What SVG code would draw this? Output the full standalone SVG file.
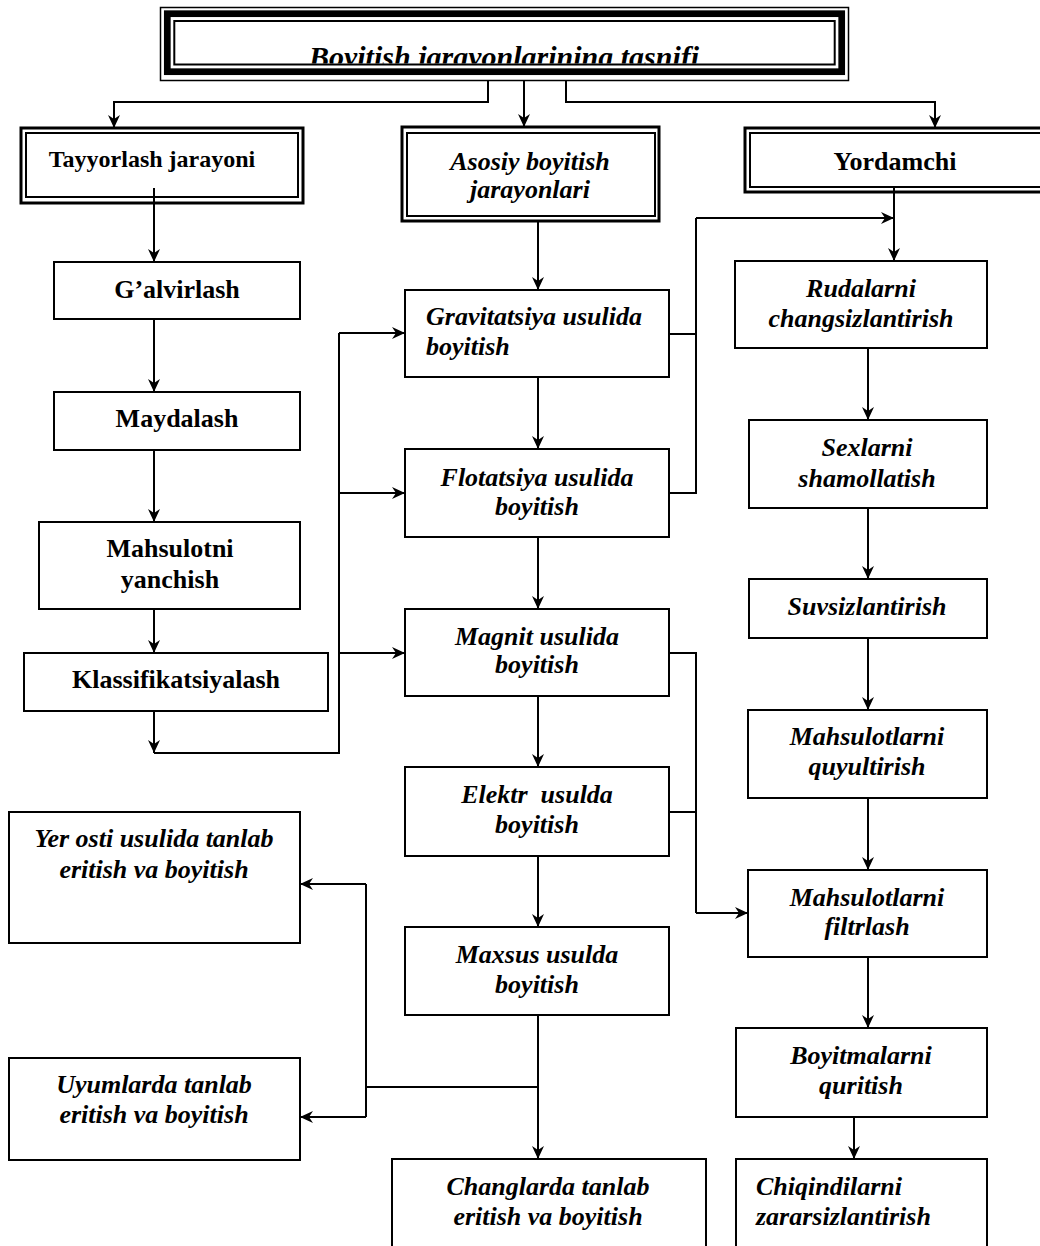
<svg xmlns="http://www.w3.org/2000/svg" width="1040" height="1246" viewBox="0 0 1040 1246">
<style>
.box{fill:#fff;stroke:#000;stroke-width:2}
.ob{fill:none;stroke:#000;stroke-width:3}
.ib{fill:none;stroke:#000;stroke-width:2}
.t{font-family:"Liberation Serif","Times New Roman",serif;font-size:26px;font-weight:bold;font-style:italic;fill:#000}
.n{font-style:normal}
.m{text-anchor:middle}
.conn{fill:none;stroke:#000;stroke-width:2}
</style>
<defs>
<marker id="ah" viewBox="0 0 13 12" refX="13" refY="6" markerWidth="13" markerHeight="12" markerUnits="userSpaceOnUse" orient="auto">
<path d="M0,0 L13,6 L0,12 L4,6 z" fill="#000"/>
</marker>
<clipPath id="titleClip"><rect x="176" y="22" width="658" height="41.5"/></clipPath>
</defs>
<rect width="1040" height="1246" fill="#fff"/>

<g id="connectors">
<path class="conn" d="M488,81 V102 H114 V128" marker-end="url(#ah)"/>
<path class="conn" d="M524,81 V127" marker-end="url(#ah)"/>
<path class="conn" d="M566,81 V102 H935 V128" marker-end="url(#ah)"/>
<path class="conn" d="M154,188 V262" marker-end="url(#ah)"/>
<path class="conn" d="M154,319 V392" marker-end="url(#ah)"/>
<path class="conn" d="M154,450 V522" marker-end="url(#ah)"/>
<path class="conn" d="M154,609 V653" marker-end="url(#ah)"/>
<path class="conn" d="M154,711 V753" marker-end="url(#ah)"/>
<path class="conn" d="M154,753 H339 V333"/>
<path class="conn" d="M339,333 H405" marker-end="url(#ah)"/>
<path class="conn" d="M339,493 H405" marker-end="url(#ah)"/>
<path class="conn" d="M339,653 H405" marker-end="url(#ah)"/>
<path class="conn" d="M538,221 V290" marker-end="url(#ah)"/>
<path class="conn" d="M538,377 V449" marker-end="url(#ah)"/>
<path class="conn" d="M538,537 V609" marker-end="url(#ah)"/>
<path class="conn" d="M538,696 V767" marker-end="url(#ah)"/>
<path class="conn" d="M538,856 V927" marker-end="url(#ah)"/>
<path class="conn" d="M538,1015 V1159" marker-end="url(#ah)"/>
<path class="conn" d="M538,1087 H366"/>
<path class="conn" d="M366,1117 V884"/>
<path class="conn" d="M366,884 H300" marker-end="url(#ah)"/>
<path class="conn" d="M366,1117 H300" marker-end="url(#ah)"/>
<path class="conn" d="M669,334 H696"/>
<path class="conn" d="M669,493 H696 V218"/>
<path class="conn" d="M696,218 H894" marker-end="url(#ah)"/>
<path class="conn" d="M894,188 V261" marker-end="url(#ah)"/>
<path class="conn" d="M669,653 H696 V913"/>
<path class="conn" d="M669,812 H696"/>
<path class="conn" d="M696,913 H748" marker-end="url(#ah)"/>
<path class="conn" d="M868,348 V420" marker-end="url(#ah)"/>
<path class="conn" d="M868,508 V579" marker-end="url(#ah)"/>
<path class="conn" d="M868,638 V710" marker-end="url(#ah)"/>
<path class="conn" d="M868,798 V870" marker-end="url(#ah)"/>
<path class="conn" d="M868,957 V1028" marker-end="url(#ah)"/>
<path class="conn" d="M854,1117 V1159" marker-end="url(#ah)"/>
</g>

<g id="title">
<rect x="160.5" y="7.5" width="688" height="73" fill="#fff" stroke="#000" stroke-width="1.5"/>
<rect x="167.3" y="13.7" width="674.4" height="58" fill="none" stroke="#000" stroke-width="6.7"/>
<rect x="174.3" y="21" width="660.4" height="43.5" fill="none" stroke="#000" stroke-width="2"/>
<text class="t m" x="504" y="67" font-size="30" style="font-size:30px" clip-path="url(#titleClip)">Boyitish jarayonlarining tasnifi</text>
</g>

<g id="tayyorlash">
<rect x="21" y="128" width="282" height="75" fill="#fff" class="ob"/>
<rect x="26" y="133" width="272" height="64" class="ib"/>
<text class="t n m" x="152" y="167" style="font-size:24px">Tayyorlash jarayoni</text>
</g>
<g id="asosiy">
<rect x="402" y="127" width="257" height="94" fill="#fff" class="ob"/>
<rect x="407" y="133" width="248" height="83" class="ib"/>
<text class="t m" x="530" y="170">Asosiy boyitish</text>
<text class="t m" x="530" y="198">jarayonlari</text>
</g>
<g id="yordamchi">
<rect x="745" y="128" width="301" height="64" fill="#fff" class="ob"/>
<rect x="750" y="133" width="291" height="54" class="ib"/>
<text class="t n m" x="895" y="170">Yordamchi</text>
</g>

<g id="galvirlash">
<rect class="box" x="54" y="262" width="246" height="57"/>
<text class="t n m" x="177" y="298">G’alvirlash</text>
</g>
<g id="maydalash">
<rect class="box" x="54" y="392" width="246" height="58"/>
<text class="t n m" x="177" y="427">Maydalash</text>
</g>
<g id="yanchish">
<rect class="box" x="39" y="522" width="261" height="87"/>
<text class="t n m" x="170" y="557">Mahsulotni</text>
<text class="t n m" x="170" y="588">yanchish</text>
</g>
<g id="klassifikatsiyalash">
<rect class="box" x="24" y="653" width="304" height="58"/>
<text class="t n m" x="176" y="688">Klassifikatsiyalash</text>
</g>

<g id="gravitatsiya">
<rect class="box" x="405" y="290" width="264" height="87"/>
<text class="t" x="426" y="325">Gravitatsiya usulida</text>
<text class="t" x="426" y="355">boyitish</text>
</g>
<g id="flotatsiya">
<rect class="box" x="405" y="449" width="264" height="88"/>
<text class="t m" x="537" y="486">Flotatsiya usulida</text>
<text class="t m" x="537" y="515">boyitish</text>
</g>
<g id="magnit">
<rect class="box" x="405" y="609" width="264" height="87"/>
<text class="t m" x="537" y="645">Magnit usulida</text>
<text class="t m" x="537" y="673">boyitish</text>
</g>
<g id="elektr">
<rect class="box" x="405" y="767" width="264" height="89"/>
<text class="t m" x="537" y="803" xml:space="preserve" style="white-space:pre">Elektr  usulda</text>
<text class="t m" x="537" y="833">boyitish</text>
</g>
<g id="maxsus">
<rect class="box" x="405" y="927" width="264" height="88"/>
<text class="t m" x="537" y="963">Maxsus usulda</text>
<text class="t m" x="537" y="993">boyitish</text>
</g>

<g id="yerosti">
<rect class="box" x="9" y="812" width="291" height="131"/>
<text class="t m" x="154" y="847">Yer osti usulida tanlab</text>
<text class="t m" x="154" y="878">eritish va boyitish</text>
</g>
<g id="uyumlarda">
<rect class="box" x="9" y="1058" width="291" height="102"/>
<text class="t m" x="154" y="1093">Uyumlarda tanlab</text>
<text class="t m" x="154" y="1123">eritish va boyitish</text>
</g>
<g id="changlarda">
<rect class="box" x="392" y="1159" width="314" height="110"/>
<text class="t m" x="548" y="1195">Changlarda tanlab</text>
<text class="t m" x="548" y="1225">eritish va boyitish</text>
</g>

<g id="rudalarni">
<rect class="box" x="735" y="261" width="252" height="87"/>
<text class="t m" x="861" y="297">Rudalarni</text>
<text class="t m" x="861" y="327">changsizlantirish</text>
</g>
<g id="sexlarni">
<rect class="box" x="749" y="420" width="238" height="88"/>
<text class="t m" x="867" y="456">Sexlarni</text>
<text class="t m" x="867" y="487">shamollatish</text>
</g>
<g id="suvsizlantirish">
<rect class="box" x="749" y="579" width="238" height="59"/>
<text class="t m" x="867" y="615">Suvsizlantirish</text>
</g>
<g id="quyultirish">
<rect class="box" x="748" y="710" width="239" height="88"/>
<text class="t m" x="867" y="745">Mahsulotlarni</text>
<text class="t m" x="867" y="775">quyultirish</text>
</g>
<g id="filtrlash">
<rect class="box" x="748" y="870" width="239" height="87"/>
<text class="t m" x="867" y="906">Mahsulotlarni</text>
<text class="t m" x="867" y="935">filtrlash</text>
</g>
<g id="quritish">
<rect class="box" x="736" y="1028" width="251" height="89"/>
<text class="t m" x="861" y="1064">Boyitmalarni</text>
<text class="t m" x="861" y="1094">quritish</text>
</g>
<g id="chiqindilarni">
<rect class="box" x="736" y="1159" width="251" height="110"/>
<text class="t" x="756" y="1195">Chiqindilarni</text>
<text class="t" x="756" y="1225">zararsizlantirish</text>
</g>
</svg>
